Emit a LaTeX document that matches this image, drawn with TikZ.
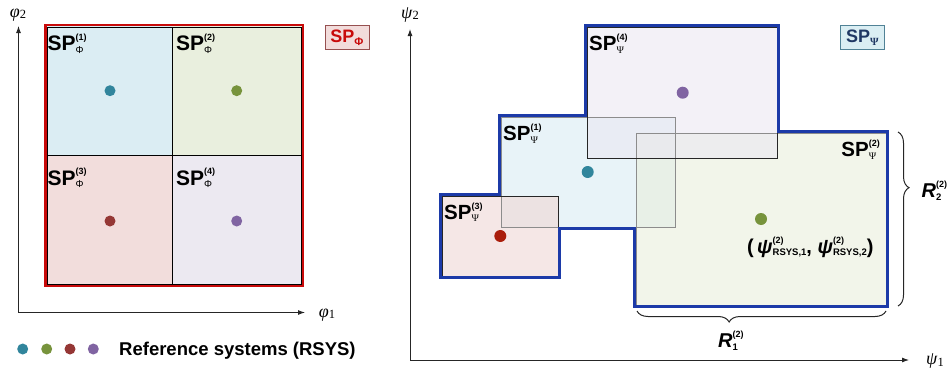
\documentclass[tikz,border=0pt]{standalone}
\usepackage{fontspec}
\setmainfont{Liberation Sans}
\newfontfamily\serifface{Liberation Serif}
\usetikzlibrary{arrows.meta,decorations.pathreplacing}

% palette
\definecolor{cellblue}{RGB}{219,237,243}
\definecolor{cellgreen}{RGB}{233,239,222}
\definecolor{cellred}{RGB}{242,221,220}
\definecolor{cellpurple}{RGB}{236,233,241}
\definecolor{frameRed}{RGB}{200,10,10}
\definecolor{dotteal}{RGB}{49,133,156}
\definecolor{dotgreen}{RGB}{119,147,60}
\definecolor{dotred}{RGB}{149,55,53}
\definecolor{dotpurple}{RGB}{128,100,162}
\definecolor{dotbright}{RGB}{170,30,12}
\definecolor{hullblue}{RGB}{28,58,168}
\definecolor{psiOne}{RGB}{217,235,243}
\definecolor{psiTwo}{RGB}{233,238,220}
\definecolor{psiThree}{RGB}{238,215,213}
\definecolor{psiFour}{RGB}{235,232,242}
\definecolor{navy}{RGB}{31,56,100}
\definecolor{tagRedFill}{RGB}{242,220,219}
\definecolor{tagRedLine}{RGB}{150,80,80}
\definecolor{tagBlueFill}{RGB}{218,238,243}
\definecolor{tagBlueLine}{RGB}{80,130,150}

% stacked superscript / subscript
\newcommand{\supsub}[4]{%
  \setbox0=\hbox{#2}\setbox2=\hbox{#4}%
  \ifdim\wd0>\wd2 \dimen0=\wd0 \else \dimen0=\wd2 \fi
  \hbox to \dimen0{\rlap{\raise#1\box0}\lower#3\box2\hfil}}
\newcommand{\spPhi}[1]{{\fontsize{21}{21}\selectfont\bfseries SP}\supsub{10.5pt}{\fontsize{9}{9}\selectfont\bfseries(#1)}{2.6pt}{\fontsize{10}{10}\selectfont Φ}}
\newcommand{\spPsi}[1]{{\fontsize{20.5}{20.5}\selectfont\bfseries SP}\supsub{10pt}{\fontsize{9}{9}\selectfont\bfseries(#1)}{2.5pt}{\serifface\fontsize{10}{10}\selectfont Ψ}}
\newcommand{\axlab}[2]{{\serifface\fontsize{18}{18}\selectfont\itshape #1\/\upshape\fontsize{12.5}{12.5}\selectfont\lower1.5pt\hbox{#2}}}
\newcommand{\rsys}[1]{{\itshape ψ}\supsub{9.5pt}{\fontsize{9}{9}\selectfont(2)}{2.5pt}{\fontsize{9.5}{9.5}\selectfont RSYS,#1}}

\begin{document}
\begin{tikzpicture}[x=1pt,y=-1pt,
  axisline/.style={line width=0.9pt, draw=black!85, -{Latex[length=7pt,width=5pt]}},
  dot/.style={circle, inner sep=0pt, minimum size=11pt, draw=none},
  lab/.style={inner sep=0pt, anchor=base west},
  cellline/.style={draw=black, line width=0.8pt},
  boxgray/.style={draw=black!45, line width=0.8pt},
  boxdark/.style={draw=black!85, line width=0.9pt},
  hull/.style={draw=hullblue, line width=3pt, line join=miter},
  bracestyle/.style={draw=black!85, line width=1pt, decorate,
    decoration={brace, amplitude=11pt, aspect=#1}},
  tag/.style={inner sep=0pt, minimum width=44pt, minimum height=24pt, line width=0.9pt},
]
\useasboundingbox (0,0) rectangle (947,375);

% ---------------- left panel: parameter space Phi ----------------
\coordinate (lo) at (18.5,312.5);
\coordinate (lx) at (305,312.5);
\coordinate (ly) at (18.5,26);
\draw[axisline] (lo) -- (lx);
\draw[axisline] (lo) -- (ly);
\node[inner sep=0pt] (phi2) at (18,15) {\axlab{φ}{2}};
\node[inner sep=0pt] (phi1) at (327,315) {\axlab{φ}{1}};

\fill[cellblue]   (45,25) rectangle (172,155);
\fill[cellgreen]  (172,25) rectangle (303,155);
\fill[cellred]    (45,155) rectangle (172,286);
\fill[cellpurple] (172,155) rectangle (303,286);
\draw[frameRed, line width=2.4pt] (45.4,24.9) rectangle (302.9,286.2);
\draw[cellline] (47,27) rectangle (301.4,284.2);
\draw[cellline] (172,27) -- (172,284.2);
\draw[cellline] (47,155) -- (301.4,155);

\node[lab] (q1) at (47.5,50.7) {\spPhi{1}};
\node[lab] (q2) at (176,50.7) {\spPhi{2}};
\node[lab] (q3) at (47.5,185) {\spPhi{3}};
\node[lab] (q4) at (176,185) {\spPhi{4}};

\node[dot, fill=dotteal]   (p1) at (110,90.7) {};
\node[dot, fill=dotgreen]  (p2) at (236.7,90.7) {};
\node[dot, fill=dotred]    (p3) at (110,221) {};
\node[dot, fill=dotpurple] (p4) at (236.7,221) {};

\node[tag, draw=tagRedLine, fill=tagRedFill] (tagphi) at (347,37.9)
  {\color{frameRed}\fontsize{18}{18}\selectfont\bfseries SP\lower2.7pt\hbox{\fontsize{11}{11}\selectfont Φ}};

% legend
\node[dot, fill=dotteal]   (g1) at (22.7,349) {};
\node[dot, fill=dotgreen]  (g2) at (46.7,349) {};
\node[dot, fill=dotred]    (g3) at (70,349) {};
\node[dot, fill=dotpurple] (g4) at (93.3,349) {};
\node[lab] (legend) at (119,355) {\fontsize{18.5}{18.5}\selectfont\bfseries Reference systems (RSYS)};

% ---------------- right panel: parameter space Psi ----------------
\coordinate (ro) at (410,360);
\coordinate (rx) at (909,360);
\coordinate (ry) at (410,29);
\draw[axisline] (ro) -- (rx);
\draw[axisline] (ro) -- (ry);
\node[inner sep=0pt] (psi2) at (410,15) {\axlab{ψ}{2}};
\node[inner sep=0pt] (psi1) at (935,361) {\axlab{ψ}{1}};

% overlapping sub-spaces
\fill[psiOne,   fill opacity=0.6] (501,117) rectangle (675,227);
\fill[psiTwo,   fill opacity=0.6] (636,133) rectangle (886,305);
\fill[psiThree, fill opacity=0.6] (442,196) rectangle (558,276);
\fill[psiFour,  fill opacity=0.6] (587,27) rectangle (777,158);
\draw[boxgray] (501,117) rectangle (675,227);
\draw[boxgray] (636,133) rectangle (886,305);
\draw[boxdark] (442,196) rectangle (558,276);
\draw[boxdark] (587,27) rectangle (777,158);

% outline of the union
\draw[hull] (440.5,277.5) -- (440.5,194.5) -- (499.5,194.5) -- (499.5,115.5)
  -- (585.5,115.5) -- (585.5,25.5) -- (778.5,25.5) -- (778.5,131.5)
  -- (887.5,131.5) -- (887.5,306.5) -- (634.5,306.5) -- (634.5,228.5)
  -- (559.5,228.5) -- (559.5,277.5) -- cycle;

\node[lab] (s4) at (589,50.7) {\spPsi{4}};
\node[lab] (s1) at (503,140.7) {\spPsi{1}};
\node[lab] (s3) at (444,219) {\spPsi{3}};
\node[inner sep=0pt, anchor=base east] (s2) at (880,156.7) {\spPsi{2}};

\node[dot, fill=dotpurple, minimum size=12pt] (r4) at (682.7,92.7) {};
\node[dot, fill=dotteal,   minimum size=12pt] (r1) at (587.7,172) {};
\node[dot, fill=dotgreen,  minimum size=12pt] (r2) at (761,219) {};
\node[dot, fill=dotbright, minimum size=12pt] (r3) at (500.3,236) {};

\node[lab] (coord) at (747,253)
  {\fontsize{20}{20}\selectfont\bfseries (\,\rsys{1},\ \rsys{2})};

\node[tag, draw=tagBlueLine, fill=tagBlueFill] (tagpsi) at (862.5,37.9)
  {\color{navy}\fontsize{18}{18}\selectfont\bfseries SP\lower2.7pt\hbox{\serifface\fontsize{11}{11}\selectfont Ψ}};

% extent braces
\coordinate (b2a) at (898,132);
\coordinate (b2b) at (898,306);
\draw[bracestyle=0.32] (b2a) -- (b2b);
\node[lab] (R2) at (921.5,197.3)
  {\fontsize{20}{20}\selectfont\bfseries\itshape R\upshape\supsub{10pt}{\fontsize{9}{9}\selectfont(2)}{3pt}{\fontsize{9.5}{9.5}\selectfont 2}};
\coordinate (b1a) at (886,311);
\coordinate (b1b) at (637,311);
\draw[bracestyle=0.63] (b1a) -- (b1b);
\node[lab] (R1) at (718,347)
  {\fontsize{20}{20}\selectfont\bfseries\itshape R\upshape\supsub{10pt}{\fontsize{9}{9}\selectfont(2)}{3pt}{\fontsize{9.5}{9.5}\selectfont 1}};
\end{tikzpicture}
\end{document}
